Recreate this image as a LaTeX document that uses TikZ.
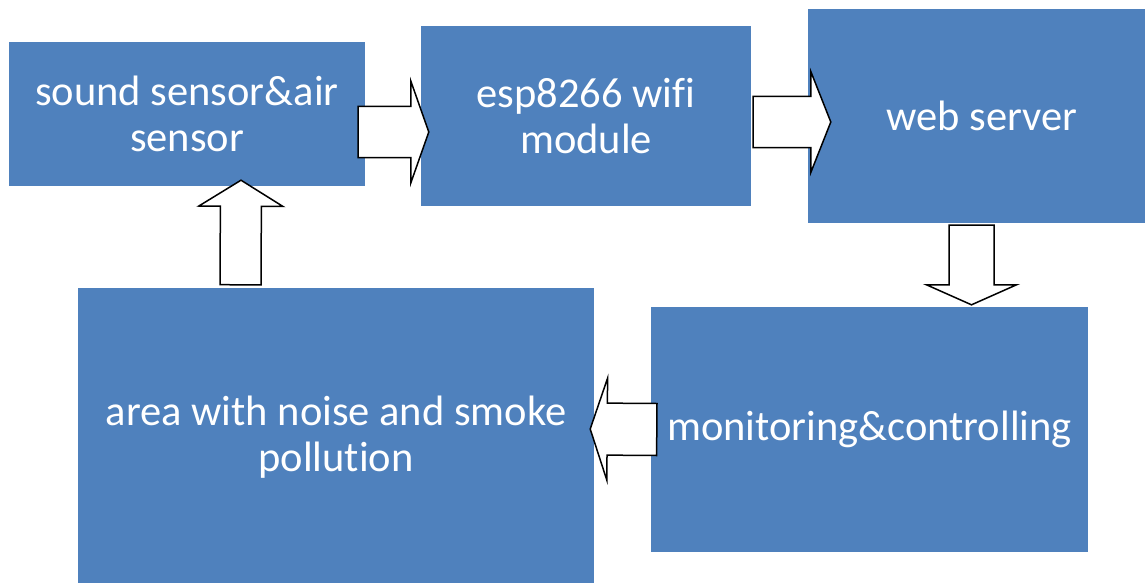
\documentclass[tikz,border=0pt]{standalone}
\usepackage{fontspec}
\setmainfont{Carlito}[Ligatures=NoCommon]
\usetikzlibrary{calc}
\definecolor{boxblue}{HTML}{4F81BD}

\begin{document}
\begin{tikzpicture}[
        x=1pt, y=-1pt,
        box/.style={fill=boxblue, text=white, align=center, inner sep=0pt,
            font=\fontsize{42.5}{46}\selectfont},
        bigarrow/.style n args={3}{draw=black, line width=1.5pt, fill=white, line join=miter,
            to path={let \p1=(\tikztostart), \p2=(\tikztotarget),
                \n1={veclen(\x2-\x1,\y2-\y1)}, \n2={atan2(\y2-\y1,\x2-\x1)} in
                [shift={(\p1)}, rotate=\n2]
                (0pt,-#1pt) -- ({\n1*1pt-#3pt},-#1pt) -- ({\n1*1pt-#3pt},-#2pt) -- ({\n1*1pt},0pt)
                -- ({\n1*1pt-#3pt},#2pt) -- ({\n1*1pt-#3pt},#1pt) -- (0pt,#1pt) -- cycle}}
    ]
    \useasboundingbox (0,0) rectangle (1145,583);

    % Nodes
    \node[box, minimum width=356, minimum height=143] (sensor) at (187,114) {sound sensor\&air\\sensor};
    \node[box, minimum width=330, minimum height=180] (esp) at (586,116) {esp8266 wifi\\module};
    \node[box, minimum width=348, minimum height=214] (web) at (982,116) {web server};
    \node[box, minimum width=437, minimum height=245] (monitor) at (869.5,429.5) {monitoring\&controlling};
    \node[box, minimum width=516, minimum height=298] (area) at (336,437) {area with noise and smoke\\pollution};

    % Edges
    \draw[bigarrow={25.5}{51}{18}] ($(sensor.east)+(-7,18)$) to ($(esp.west)+(8,16)$);
    \draw[bigarrow={25.5}{50.5}{20}] ($(esp.east)+(2,6)$) to ($(web.west)+(23,6)$);
    \draw[bigarrow={22.5}{45}{20}] ($(web.south)+(-10.5,2)$) to ($(monitor.north)+(102,-2)$);
    \draw[bigarrow={26}{51}{17}] ($(monitor.west)+(6,0)$) to ($(area.east)+(-4,-8)$);
    \draw[bigarrow={20.5}{42}{26}] ($(area.north)+(-95.5,-3)$) to ($(sensor.south)+(54,-5.5)$);

\end{tikzpicture}
\end{document}
